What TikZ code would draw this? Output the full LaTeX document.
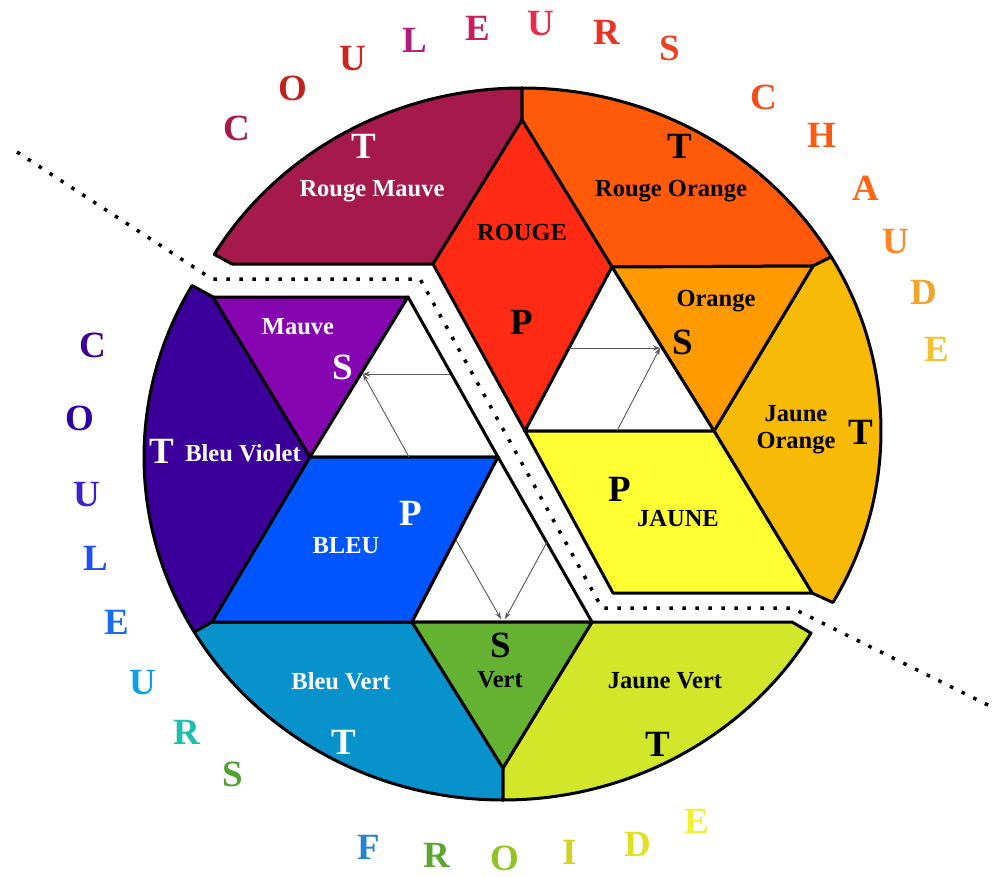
\documentclass[tikz,border=0pt]{standalone}
\usepackage{fontspec}
\setmainfont{Liberation Serif}
\usetikzlibrary{calc,arrows.meta}
\definecolor{rougemauve}{HTML}{A51A4B}
\definecolor{rougeorange}{HTML}{FF5A0A}
\definecolor{rouge}{HTML}{FF2A14}
\definecolor{orangec}{HTML}{FF9A00}
\definecolor{jauneorange}{HTML}{F7BA06}
\definecolor{jaune}{HTML}{FFFF33}
\definecolor{mauve}{HTML}{8505B0}
\definecolor{bleuviolet}{HTML}{3A0099}
\definecolor{bleu}{HTML}{0055FF}
\definecolor{bleuvert}{HTML}{0892CC}
\definecolor{vert}{HTML}{65B232}
\definecolor{jaunevert}{HTML}{D2E62A}
\begin{document}
\begin{tikzpicture}[x=1pt,y=1pt,yscale=-1,
  piece/.style={draw=black,line width=3pt,line join=round},
  lblw/.style={text=white,font=\bfseries\fontsize{24.5}{27}\selectfont,inner sep=0pt,align=center},
  lblb/.style={text=black,font=\bfseries\fontsize{24.5}{27}\selectfont,inner sep=0pt,align=center},
  bigw/.style={text=white,font=\bfseries\fontsize{37}{37}\selectfont,inner sep=0pt},
  bigb/.style={text=black,font=\bfseries\fontsize{37}{37}\selectfont,inner sep=0pt},
  outl/.style={font=\bfseries\fontsize{37}{37}\selectfont,inner sep=0pt},
  arr/.style={draw=black!65,line width=0.9pt,-{Stealth[length=7pt,width=5pt]}},
  dotline/.style={draw=black,line width=3.5pt,dash pattern=on 3.5pt off 9.5pt}]
\useasboundingbox (0,0) rectangle (1000,877);
% centres of the two halves
\coordinate (W) at (522,431);
\coordinate (C) at (503,457);
\coordinate (wRM) at ($(W)+(-149:359pt and 343pt)$);
\coordinate (wTop) at ($(W)+(-90:359pt and 343pt)$);
\coordinate (wRO) at ($(W)+(-30.5:359pt and 343pt)$);
\coordinate (cBV1) at ($(C)+(210:359pt and 343pt)$);
\coordinate (cBV2) at ($(C)+(149.3:359pt and 343pt)$);
\coordinate (cBot) at ($(C)+(90:359pt and 343pt)$);
\coordinate (cJV) at ($(C)+(30.9:359pt and 343pt)$);
% warm half vertices
\coordinate (r1) at (522,120);
\coordinate (r2) at (612,267);
\coordinate (r3) at (525,431);
\coordinate (r4) at (433,264);
\coordinate (rm1) at (232,264);
\coordinate (o2) at (813,266);
\coordinate (o3) at (714,431);
\coordinate (j3) at (812,593);
\coordinate (j4) at (613,593);
% cool half vertices
\coordinate (m1) at (213,297);
\coordinate (m2) at (408,297);
\coordinate (m3) at (310,457);
\coordinate (b2) at (498,457);
\coordinate (b3) at (412,622);
\coordinate (b4) at (212,622);
\coordinate (v2) at (592,622);
\coordinate (v3) at (503,768);
\coordinate (jv2) at (792,622);
% warm pieces
\filldraw[piece,fill=rougemauve] (r4) -- (rm1) -- (wRM) arc[start angle=-149,end angle=-90,x radius=359pt,y radius=343pt] -- (r1) -- cycle;
\filldraw[piece,fill=rougeorange] (wTop) arc[start angle=-90,end angle=-30.5,x radius=359pt,y radius=343pt] -- (o2) -- (r2) -- (r1) -- cycle;
\filldraw[piece,fill=jauneorange] (o2) -- (wRO) arc[start angle=-30.5,end angle=30,x radius=359pt,y radius=343pt] -- (j3) -- (o3) -- cycle;
\filldraw[piece,fill=rouge] (r1) -- (r2) -- (r3) -- (r4) -- cycle;
\filldraw[piece,fill=orangec] (r2) -- (o2) -- (o3) -- cycle;
\filldraw[piece,fill=white] (r2) -- (o3) -- (r3) -- cycle;
\filldraw[piece,fill=jaune] (r3) -- (o3) -- (j3) -- (j4) -- cycle;
% cool pieces
\filldraw[piece,fill=bleuviolet] (cBV1) -- (m1) -- (m3) -- (b4) -- (cBV2) arc[start angle=149.3,end angle=210,x radius=359pt,y radius=343pt] -- cycle;
\filldraw[piece,fill=bleuvert] (cBot) arc[start angle=90,end angle=149.3,x radius=359pt,y radius=343pt] -- (b4) -- (b3) -- (v3) -- cycle;
\filldraw[piece,fill=jaunevert] (v2) -- (jv2) -- (cJV) arc[start angle=30.9,end angle=90,x radius=359pt,y radius=343pt] -- (v3) -- cycle;
\filldraw[piece,fill=mauve] (m1) -- (m2) -- (m3) -- cycle;
\filldraw[piece,fill=white] (m2) -- (b2) -- (m3) -- cycle;
\filldraw[piece,fill=bleu] (m3) -- (b2) -- (b3) -- (b4) -- cycle;
\filldraw[piece,fill=white] (b2) -- (v2) -- (b3) -- cycle;
\filldraw[piece,fill=vert] (b3) -- (v2) -- (v3) -- cycle;
% arrows
\coordinate (sa) at (660,348);
\coordinate (sa1) at (569,348);
\coordinate (sa2) at (617,431);
\draw[arr] (sa1) -- (sa);
\draw[arr] (sa2) -- (sa);
\coordinate (sb) at (363,374);
\coordinate (sb1) at (450,374);
\coordinate (sb2) at (409,457);
\draw[arr] (sb1) -- (sb);
\draw[arr] (sb2) -- (sb);
\coordinate (sc1) at (456,540);
\coordinate (sce1) at (501,619);
\coordinate (sc2) at (547,542);
\coordinate (sce2) at (505,619);
\draw[arr] (sc1) -- (sce1);
\draw[arr] (sc2) -- (sce2);
% dotted separation line
\coordinate (d1) at (17,152);
\coordinate (d2) at (212,279);
\coordinate (d3) at (420,279);
\coordinate (d4) at (602,608);
\coordinate (d5) at (792,608);
\coordinate (d6) at (996,709);
\draw[dotline] (d1) -- (d2) -- (d3) -- (d4) -- (d5) -- (d6);
% labels warm
\node[bigw] (tRM) at (364,146) {T};
\node[lblw] (lRM) at (372,191) {Rouge Mauve};
\node[lblb] (lR) at (522,233) {ROUGE};
\node[bigb] (pR) at (522,322) {P};
\node[bigb] (tRO) at (680,146) {T};
\node[lblb] (lRO) at (671,191) {Rouge Orange};
\node[lblb] (lO) at (716,301) {Orange};
\node[bigb] (sO) at (683,342) {S};
\node[lblb] (lJO) at (796,430) {Jaune\\Orange};
\node[bigb] (tJO) at (861,432) {T};
\node[bigb] (pJ) at (620,489) {P};
\node[lblb] (lJ) at (678,519) {JAUNE};
% labels cool
\node[lblw] (lM) at (298,327) {Mauve};
\node[bigw] (sM) at (343,367) {S};
\node[bigw] (tBV) at (162,451) {T};
\node[lblw] (lBV) at (243,453) {Bleu Violet};
\node[bigw] (pB) at (411,513) {P};
\node[lblw] (lB) at (346,546) {BLEU};
\node[bigb] (sV) at (501,645) {S};
\node[lblb] (lV) at (500,680) {Vert};
\node[lblw] (lBVe) at (341,681) {Bleu Vert};
\node[bigw] (tBVe) at (344,742) {T};
\node[lblb] (lJV) at (665,681) {Jaune Vert};
\node[bigb] (tJV) at (658,744) {T};
% outer letters: COULEURS CHAUDES
\node[outl,text=rougemauve] (h1) at (237,128) {C};
\node[outl,text={rgb,255:red,190;green,35;blue,30}] (h2) at (293,88) {O};
\node[outl,text={rgb,255:red,200;green,40;blue,30}] (h3) at (353,59) {U};
\node[outl,text={rgb,255:red,175;green,30;blue,125}] (h4) at (415,40) {L};
\node[outl,text={rgb,255:red,200;green,30;blue,90}] (h5) at (478,28) {E};
\node[outl,text={rgb,255:red,230;green,45;blue,75}] (h6) at (541,24) {U};
\node[outl,text={rgb,255:red,232;green,50;blue,35}] (h7) at (607,32) {R};
\node[outl,text={rgb,255:red,240;green,65;blue,35}] (h8) at (670,48) {S};
\node[outl,text={rgb,255:red,240;green,80;blue,30}] (h9) at (764,97) {C};
\node[outl,text={rgb,255:red,248;green,90;blue,20}] (h10) at (822,135) {H};
\node[outl,text={rgb,255:red,255;green,100;blue,20}] (h11) at (866,188) {A};
\node[outl,text={rgb,255:red,255;green,135;blue,40}] (h12) at (896,242) {U};
\node[outl,text={rgb,255:red,240;green,165;blue,45}] (h13) at (924,292) {D};
\node[outl,text={rgb,255:red,240;green,195;blue,50}] (h14) at (937,349) {E};
% outer letters: COULEURS FROIDES
\node[outl,text={rgb,255:red,60;green,0;blue,150}] (f1) at (93,345) {C};
\node[outl,text={rgb,255:red,45;green,0;blue,165}] (f2) at (80,418) {O};
\node[outl,text={rgb,255:red,60;green,35;blue,195}] (f3) at (87,495) {U};
\node[outl,text={rgb,255:red,35;green,80;blue,240}] (f4) at (96,558) {L};
\node[outl,text={rgb,255:red,25;green,110;blue,240}] (f5) at (117,622) {E};
\node[outl,text={rgb,255:red,15;green,160;blue,225}] (f6) at (143,683) {U};
\node[outl,text={rgb,255:red,30;green,190;blue,170}] (f7) at (187,732) {R};
\node[outl,text={rgb,255:red,80;green,160;blue,50}] (f8) at (233,774) {S};
\node[outl,text={rgb,255:red,40;green,130;blue,210}] (f9) at (369,847) {F};
\node[outl,text={rgb,255:red,95;green,165;blue,50}] (f10) at (437,855) {R};
\node[outl,text={rgb,255:red,145;green,195;blue,35}] (f11) at (505,858) {O};
\node[outl,text={rgb,255:red,210;green,210;blue,35}] (f12) at (570,852) {I};
\node[outl,text={rgb,255:red,225;green,225;blue,35}] (f13) at (638,844) {D};
\node[outl,text={rgb,255:red,240;green,240;blue,50}] (f14) at (697,821) {E};
\end{tikzpicture}
\end{document}
